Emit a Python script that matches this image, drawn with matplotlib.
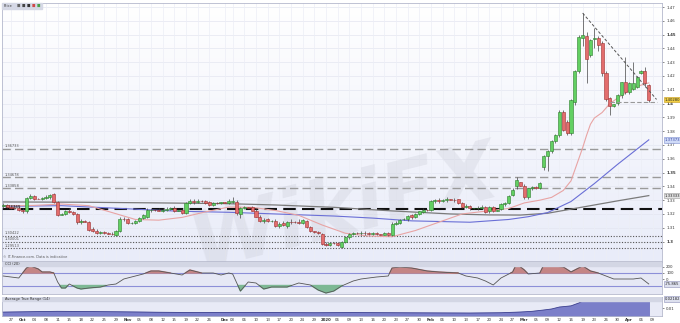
import matplotlib.pyplot as plt
import matplotlib.transforms as mtransforms
import numpy as np
import pandas as pd
from matplotlib.colors import LinearSegmentedColormap
from matplotlib.patches import Rectangle

W, H = 680, 323

# daily candles (Sun-Fri sessions), Sep 25 2019 -> Apr 8 2020
opens = [
    1.3255, 1.3265, 1.3250, 1.3245, 1.3242, 1.3232, 1.3220, 1.3319, 1.3330, 1.3312,
    1.3310, 1.3315, 1.3320, 1.3342, 1.3288, 1.3195, 1.3200, 1.3225, 1.3215, 1.3200,
    1.3140, 1.3150, 1.3140, 1.3090, 1.3078, 1.3065, 1.3068, 1.3062, 1.3058, 1.3045,
    1.3078, 1.3165, 1.3165, 1.3133, 1.3135, 1.3148, 1.3170, 1.3180, 1.3230, 1.3232,
    1.3230, 1.3225, 1.3230, 1.3238, 1.3245, 1.3225, 1.3228, 1.3208, 1.3283, 1.3297,
    1.3285, 1.3295, 1.3292, 1.3290, 1.3268, 1.3282, 1.3278, 1.3285, 1.3283, 1.3285,
    1.3290, 1.3200, 1.3245, 1.3248, 1.3250, 1.3225, 1.3180, 1.3148, 1.3162, 1.3150,
    1.3152, 1.3112, 1.3135, 1.3110, 1.3145, 1.3142, 1.3145, 1.3135, 1.3150, 1.3105,
    1.3075, 1.3068, 1.3058, 1.2985, 1.2978, 1.2990, 1.2988, 1.2960, 1.2995, 1.3030,
    1.3058, 1.3062, 1.3060, 1.3065, 1.3062, 1.3055, 1.3065, 1.3052, 1.3050, 1.3065,
    1.3045, 1.3130, 1.3135, 1.3160, 1.3160, 1.3190, 1.3175, 1.3198, 1.3212, 1.3232,
    1.3228, 1.3292, 1.3298, 1.3292, 1.3300, 1.3305, 1.3302, 1.3305, 1.3280, 1.3252,
    1.3258, 1.3240, 1.3242, 1.3245, 1.3250, 1.3218, 1.3248, 1.3222, 1.3235, 1.3272,
    1.3280, 1.3338, 1.3405, 1.3428, 1.3405, 1.3320, 1.3385, 1.3392, 1.3388, 1.3537,
    1.3617, 1.3653, 1.3726, 1.3770, 1.3937, 1.3870, 1.3784, 1.4010, 1.4235, 1.4475,
    1.4489, 1.4351, 1.4470, 1.4475, 1.4438, 1.4220, 1.4039, 1.3985, 1.4002, 1.4060,
    1.4155, 1.4082, 1.4104, 1.4119, 1.4225, 1.4235, 1.4133,
]
highs = [
    1.3280, 1.3275, 1.3265, 1.3250, 1.3258, 1.3245, 1.3325, 1.3345, 1.3340, 1.3318,
    1.3325, 1.3335, 1.3345, 1.3350, 1.3295, 1.3205, 1.3230, 1.3240, 1.3225, 1.3210,
    1.3160, 1.3155, 1.3150, 1.3105, 1.3090, 1.3080, 1.3078, 1.3066, 1.3072, 1.3085,
    1.3175, 1.3175, 1.3170, 1.3140, 1.3155, 1.3180, 1.3200, 1.3240, 1.3245, 1.3238,
    1.3245, 1.3240, 1.3252, 1.3250, 1.3255, 1.3232, 1.3235, 1.3290, 1.3305, 1.3310,
    1.3305, 1.3300, 1.3300, 1.3295, 1.3290, 1.3290, 1.3290, 1.3290, 1.3305, 1.3320,
    1.3300, 1.3250, 1.3260, 1.3252, 1.3258, 1.3235, 1.3190, 1.3170, 1.3170, 1.3155,
    1.3160, 1.3140, 1.3150, 1.3150, 1.3160, 1.3146, 1.3160, 1.3165, 1.3155, 1.3110,
    1.3080, 1.3080, 1.3065, 1.2995, 1.2998, 1.2995, 1.2995, 1.3005, 1.3040, 1.3065,
    1.3072, 1.3066, 1.3075, 1.3078, 1.3070, 1.3070, 1.3072, 1.3056, 1.3072, 1.3070,
    1.3140, 1.3150, 1.3165, 1.3170, 1.3195, 1.3198, 1.3205, 1.3225, 1.3240, 1.3238,
    1.3300, 1.3310, 1.3315, 1.3310, 1.3320, 1.3310, 1.3315, 1.3312, 1.3285, 1.3275,
    1.3265, 1.3245, 1.3255, 1.3262, 1.3258, 1.3255, 1.3255, 1.3232, 1.3280, 1.3290,
    1.3340, 1.3385, 1.3465, 1.3432, 1.3420, 1.3390, 1.3400, 1.3405, 1.3430, 1.3625,
    1.3665, 1.3735, 1.3780, 1.3955, 1.3950, 1.3880, 1.4030, 1.4240, 1.4500, 1.4656,
    1.4520, 1.4470, 1.4547, 1.4490, 1.4450, 1.4235, 1.4050, 1.4000, 1.4070, 1.4160,
    1.4337, 1.4160, 1.4300, 1.4200, 1.4245, 1.4265, 1.4140,
]
lows = [
    1.3240, 1.3245, 1.3235, 1.3238, 1.3225, 1.3205, 1.3210, 1.3305, 1.3300, 1.3305,
    1.3298, 1.3305, 1.3310, 1.3280, 1.3185, 1.3190, 1.3190, 1.3210, 1.3195, 1.3130,
    1.3125, 1.3140, 1.3075, 1.3068, 1.3058, 1.3055, 1.3055, 1.3055, 1.3045, 1.3040,
    1.3070, 1.3150, 1.3125, 1.3128, 1.3128, 1.3140, 1.3160, 1.3170, 1.3215, 1.3225,
    1.3218, 1.3212, 1.3222, 1.3228, 1.3215, 1.3220, 1.3200, 1.3200, 1.3275, 1.3275,
    1.3278, 1.3288, 1.3270, 1.3260, 1.3260, 1.3272, 1.3270, 1.3280, 1.3275, 1.3278,
    1.3195, 1.3170, 1.3235, 1.3240, 1.3218, 1.3175, 1.3140, 1.3135, 1.3140, 1.3145,
    1.3105, 1.3100, 1.3115, 1.3100, 1.3130, 1.3136, 1.3125, 1.3130, 1.3100, 1.3070,
    1.3060, 1.3052, 1.2975, 1.2965, 1.2965, 1.2982, 1.2968, 1.2952, 1.2990, 1.3020,
    1.3045, 1.3055, 1.3048, 1.3050, 1.3045, 1.3045, 1.3045, 1.3046, 1.3045, 1.3040,
    1.3038, 1.3120, 1.3128, 1.3155, 1.3150, 1.3165, 1.3168, 1.3190, 1.3205, 1.3225,
    1.3220, 1.3280, 1.3282, 1.3285, 1.3290, 1.3300, 1.3290, 1.3275, 1.3245, 1.3240,
    1.3232, 1.3235, 1.3232, 1.3238, 1.3208, 1.3210, 1.3215, 1.3218, 1.3228, 1.3260,
    1.3272, 1.3330, 1.3380, 1.3400, 1.3310, 1.3312, 1.3370, 1.3380, 1.3378, 1.3520,
    1.3508, 1.3640, 1.3715, 1.3760, 1.3800, 1.3775, 1.3770, 1.3990, 1.4220, 1.4420,
    1.4148, 1.4340, 1.4400, 1.4380, 1.4200, 1.4020, 1.3915, 1.3975, 1.3990, 1.4040,
    1.4070, 1.4070, 1.4095, 1.4110, 1.4215, 1.4120, 1.4010,
]
closes = [
    1.3265, 1.3250, 1.3245, 1.3242, 1.3232, 1.3220, 1.3319, 1.3330, 1.3312, 1.3310,
    1.3315, 1.3320, 1.3340, 1.3288, 1.3195, 1.3200, 1.3225, 1.3215, 1.3200, 1.3140,
    1.3150, 1.3145, 1.3085, 1.3075, 1.3065, 1.3068, 1.3062, 1.3058, 1.3055, 1.3078,
    1.3165, 1.3160, 1.3133, 1.3135, 1.3148, 1.3170, 1.3190, 1.3230, 1.3232, 1.3230,
    1.3225, 1.3230, 1.3238, 1.3245, 1.3225, 1.3228, 1.3208, 1.3283, 1.3297, 1.3285,
    1.3295, 1.3292, 1.3280, 1.3268, 1.3282, 1.3278, 1.3285, 1.3283, 1.3292, 1.3297,
    1.3205, 1.3245, 1.3248, 1.3245, 1.3225, 1.3180, 1.3148, 1.3158, 1.3150, 1.3152,
    1.3112, 1.3130, 1.3122, 1.3145, 1.3142, 1.3140, 1.3135, 1.3158, 1.3105, 1.3078,
    1.3068, 1.3060, 1.2985, 1.2978, 1.2993, 1.2988, 1.2975, 1.3000, 1.3030, 1.3058,
    1.3062, 1.3060, 1.3065, 1.3062, 1.3055, 1.3062, 1.3052, 1.3050, 1.3065, 1.3048,
    1.3130, 1.3138, 1.3158, 1.3165, 1.3188, 1.3175, 1.3198, 1.3218, 1.3232, 1.3230,
    1.3292, 1.3298, 1.3292, 1.3300, 1.3305, 1.3302, 1.3298, 1.3280, 1.3250, 1.3258,
    1.3240, 1.3242, 1.3245, 1.3250, 1.3215, 1.3248, 1.3222, 1.3228, 1.3272, 1.3282,
    1.3332, 1.3375, 1.3448, 1.3405, 1.3320, 1.3385, 1.3392, 1.3388, 1.3422, 1.3617,
    1.3653, 1.3726, 1.3770, 1.3937, 1.3812, 1.3784, 1.4024, 1.4235, 1.4482, 1.4497,
    1.4322, 1.4460, 1.4475, 1.4424, 1.4220, 1.4031, 1.3980, 1.3995, 1.4060, 1.4155,
    1.4082, 1.4148, 1.4150, 1.4191, 1.4235, 1.4148, 1.4028,
]

# moving averages as they appear on the chart (candle index, price)
ma20_idx = [0, 8, 15, 22, 28, 34, 40, 46, 52, 58, 64, 70, 76, 82, 88, 94, 100, 106, 112,
            118, 124, 130, 134, 138, 141, 144, 146, 148, 149, 150, 151, 152, 154, 156,
            158, 161, 163, 166]
ma20_val = [1.3258, 1.3262, 1.3272, 1.3260, 1.3210, 1.3160, 1.3155, 1.3175, 1.3215, 1.3250,
            1.3248, 1.3225, 1.3190, 1.3120, 1.3060, 1.3040, 1.3035, 1.3080, 1.3140, 1.3200,
            1.3220, 1.3240, 1.3280, 1.3300, 1.3320, 1.3370, 1.3440, 1.3600, 1.3680, 1.3770,
            1.3850, 1.3895, 1.3935, 1.4000, 1.4040, 1.4095, 1.4125, 1.4150]
ma50_idx = [0, 15, 30, 45, 58, 70, 85, 95, 105, 120, 130, 135, 140, 146, 152, 158, 166]
ma50_val = [1.3255, 1.3260, 1.3240, 1.3220, 1.3212, 1.3200, 1.3185, 1.3170, 1.3150, 1.3140,
            1.3160, 1.3180, 1.3210, 1.3290, 1.3420, 1.3560, 1.3737]
ma200_idx = [0, 20, 40, 57, 70, 85, 100, 115, 125, 133, 140, 150, 158, 166]
ma200_val = [1.3287, 1.3285, 1.3280, 1.3275, 1.3265, 1.3248, 1.3222, 1.3200, 1.3193, 1.3192,
             1.3205, 1.3255, 1.3295, 1.3333]

# CCI (20)
cci_idx = [0, 4, 6, 7, 9, 10, 12, 13, 14, 15, 16, 17, 19, 20, 22, 25, 27, 29, 31, 33, 36, 38,
           40, 43, 46, 48, 51, 54, 56, 58, 59, 61, 63, 65, 67, 69, 73, 76, 79, 81, 83, 85, 87,
           90, 92, 96, 99, 100, 102, 105, 109, 112, 117, 119, 122, 124, 126, 128, 131, 132,
           134, 135, 138, 139, 141, 144, 146, 149, 151, 153, 157, 159, 162, 164, 166]
cci_val = [52, 20, 180, 212, 164, 116, 116, 100, -44, -140, -140, -76, -140, -156, -140, -124,
           -92, -76, 4, 36, 84, 132, 132, 100, 68, 148, 100, 100, 68, 100, 84, -188, -44, -60,
           -156, -124, -124, -60, -92, -172, -220, -188, -108, -28, 4, 36, 52, 180, 196, 180,
           132, 116, 100, 52, 20, -28, -92, 20, 116, 244, 148, 84, 100, 228, 212, 196, 116,
           212, 132, 100, 4, 4, 4, 20, -75.865]

# Average True Range (14)
atr_idx = [0, 8, 14, 20, 30, 40, 50, 60, 70, 80, 90, 100, 110, 120, 128, 133, 136, 139, 141,
           143, 146, 148, 149, 151, 154, 156, 159, 161, 163, 166]
atr_val = [0.0050, 0.0056, 0.0060, 0.0058, 0.0054, 0.0048, 0.0044, 0.0046, 0.0044, 0.0042,
           0.0044, 0.0042, 0.0040, 0.0038, 0.0042, 0.0051, 0.0060, 0.0077, 0.0090, 0.0115,
           0.0130, 0.0167, 0.0192, 0.0218, 0.0220, 0.0230, 0.0232, 0.0244, 0.0230, 0.0218]

dashed_levels = [1.36733, 1.34678, 1.33858]
key_level = 1.32365
dotted_levels = [1.30422, 1.30001, 1.29513]
trend_idx = [149, 168]
trend_val = [1.4656, 1.4030]
support_idx = [156, 168]
support_val = [1.4013, 1.4013]

xticks = [("27", "2019-09-27"), ("Oct", "2019-10-01"), ("04", "2019-10-04"), ("08", "2019-10-08"),
          ("11", "2019-10-11"), ("15", "2019-10-15"), ("18", "2019-10-18"), ("22", "2019-10-22"),
          ("25", "2019-10-25"), ("29", "2019-10-29"), ("Nov", "2019-11-01"), ("05", "2019-11-05"),
          ("08", "2019-11-08"), ("12", "2019-11-12"), ("15", "2019-11-15"), ("19", "2019-11-19"),
          ("22", "2019-11-22"), ("26", "2019-11-26"), ("Dec", "2019-12-01"), ("03", "2019-12-03"),
          ("06", "2019-12-06"), ("10", "2019-12-10"), ("13", "2019-12-13"), ("17", "2019-12-17"),
          ("20", "2019-12-20"), ("24", "2019-12-24"), ("29", "2019-12-29"), ("2020", "2020-01-02"),
          ("06", "2020-01-06"), ("09", "2020-01-09"), ("13", "2020-01-13"), ("16", "2020-01-16"),
          ("20", "2020-01-20"), ("23", "2020-01-23"), ("27", "2020-01-27"), ("30", "2020-01-30"),
          ("Feb", "2020-02-03"), ("06", "2020-02-06"), ("10", "2020-02-10"), ("13", "2020-02-13"),
          ("17", "2020-02-17"), ("20", "2020-02-20"), ("24", "2020-02-24"), ("27", "2020-02-27"),
          ("Mar", "2020-03-02"), ("05", "2020-03-05"), ("09", "2020-03-09"), ("12", "2020-03-12"),
          ("16", "2020-03-16"), ("19", "2020-03-19"), ("23", "2020-03-23"), ("26", "2020-03-26"),
          ("30", "2020-03-30"), ("Apr", "2020-04-02"), ("06", "2020-04-06"), ("09", "2020-04-09")]
month_names = ["Oct", "Nov", "Dec", "2020", "Feb", "Mar", "Apr"]

# session calendar: Sunday to Friday, no Christmas / New Year candle
days = pd.date_range("2019-09-25", "2020-04-09")
days = days[(days.dayofweek != 5) & ~days.isin(pd.to_datetime(["2019-12-25", "2020-01-01"]))]
day_pos = {d.strftime("%Y-%m-%d"): i for i, d in enumerate(days)}
xt_pos = [day_pos[d] for _, d in xticks]
xt_lab = [t for t, _ in xticks]


def box(x0, y0, x1, y1):
    return [x0 / W, 1 - y1 / H, (x1 - x0) / W, (y1 - y0) / H]


fig = plt.figure(figsize=(W / 100, H / 100), dpi=100)
fig.patch.set_facecolor("white")
ax = fig.add_axes(box(2, 3, 662, 261))
ax_cci = fig.add_axes(box(2, 262, 662, 294))
ax_atr = fig.add_axes(box(2, 297, 662, 316))

xlim = (-0.31, 169.4)
ylim = (1.2859, 1.4729)

# --- price panel ---
bg = LinearSegmentedColormap.from_list("bg", ["#e9ecf9", "#ffffff"])
ax.imshow(np.linspace(0, 1, 256).reshape(-1, 1), cmap=bg, aspect="auto", origin="lower",
          extent=[xlim[0], xlim[1], ylim[0], ylim[1]], zorder=0)
price_ticks = np.round(np.arange(1.30, 1.4701, 0.01), 2)
for p in price_ticks:
    ax.axhline(p, color="#e4e6f1", lw=0.5, zorder=0.5)
for x in xt_pos:
    ax.axvline(x, color="#eceef6", lw=0.5, zorder=0.5)

ax.text(0.52, 0.2, "WikiFX", transform=ax.transAxes, fontsize=58, fontweight="bold",
        style="italic", color="#c9cbd6", alpha=0.32, rotation=14, ha="center", va="center",
        zorder=1)

tr_left = mtransforms.blended_transform_factory(ax.transAxes, ax.transData)
for lv in dashed_levels:
    ax.axhline(lv, color="#9a9a9a", lw=1.0, dashes=(6, 3), zorder=1.5)
    ax.text(0.004, lv + 0.0009, f"{lv:.5f}", transform=tr_left, fontsize=2.6, color="#555")
ax.axhline(key_level, color="#111111", lw=1.5, dashes=(6, 3), zorder=1.5)
ax.text(0.004, key_level + 0.0009, f"{key_level:.5f}", transform=tr_left, fontsize=2.6,
        color="#333", fontweight="bold")
for lv in dotted_levels:
    ax.axhline(lv, color="#555555", lw=0.8, ls=(0, (1, 1.5)), zorder=1.5)
    ax.text(0.004, lv + 0.0009, f"{lv:.5f}", transform=tr_left, fontsize=2.6, color="#555")

ax.plot(ma200_idx, ma200_val, color="#7a7a7a", lw=0.9, zorder=2)
ax.plot(ma50_idx, ma50_val, color="#6a6fd6", lw=0.8, zorder=2)
ax.plot(ma20_idx, ma20_val, color="#e8a4a4", lw=0.8, zorder=2)

o = np.array(opens)
h = np.array(highs)
lo = np.array(lows)
c = np.array(closes)
idx = np.arange(len(c))
up = c >= o
ax.vlines(idx, lo, h, color="#444444", lw=0.5, zorder=3)
body_lo = np.minimum(o, c)
body_h = np.maximum(np.abs(c - o), 0.00015)
ax.bar(idx[up], body_h[up], bottom=body_lo[up], width=0.8, color="#62d062",
       edgecolor="#2c7d2c", lw=0.4, zorder=3.5)
ax.bar(idx[~up], body_h[~up], bottom=body_lo[~up], width=0.8, color="#e36d6d",
       edgecolor="#9e2f2f", lw=0.4, zorder=3.5)

ax.plot(trend_idx, trend_val, color="#555555", lw=0.7, dashes=(3, 2), zorder=4)
ax.plot(support_idx, support_val, color="#999999", lw=0.8, dashes=(4, 2), zorder=4)

ax.set_xlim(*xlim)
ax.set_ylim(*ylim)
ax.yaxis.tick_right()
ax.set_yticks(price_ticks)
ax.set_yticklabels([f"{p:g}" for p in price_ticks])
for lbl, p in zip(ax.get_yticklabels(), price_ticks):
    if round(p * 100) % 5 == 0:
        lbl.set_fontweight("bold")
ax.set_xticks(xt_pos)
ax.tick_params(axis="x", length=0, labelbottom=False)
ax.tick_params(axis="y", length=1.5, width=0.4, labelsize=2.8, pad=1.5, colors="#333")

# --- CCI panel ---
ax_cci.set_facecolor("#e6e8f5")
cx = np.array(cci_idx)
cv = np.array(cci_val)
ax_cci.fill_between(cx, cv, 100, where=cv > 100, interpolate=True, color="#c48585", zorder=2)
ax_cci.fill_between(cx, cv, -100, where=cv < -100, interpolate=True, color="#7db894", zorder=2)
ax_cci.axhline(100, color="#8c8fd8", lw=0.8, zorder=1.5)
ax_cci.axhline(-100, color="#8c8fd8", lw=0.8, zorder=1.5)
ax_cci.plot(cx, cv, color="#555555", lw=0.6, zorder=3)
ax_cci.set_xlim(*xlim)
ax_cci.set_ylim(-236, 276)
ax_cci.yaxis.tick_right()
ax_cci.set_yticks([200, 100, 0])
ax_cci.set_xticks(xt_pos)
ax_cci.tick_params(axis="x", length=0, labelbottom=False)
ax_cci.tick_params(axis="y", length=1.5, width=0.4, labelsize=2.8, pad=1.5, colors="#333")
ax_cci.add_patch(Rectangle((0, 0.86), 1, 0.14, transform=ax_cci.transAxes, color="#d3d6e4",
                           zorder=4))
ax_cci.text(0.004, 0.93, "CCI (20)", transform=ax_cci.transAxes, fontsize=2.6, va="center",
            color="#333", zorder=5)

# --- ATR panel ---
ax_atr.set_facecolor("#e8eaf6")
ax_atr.fill_between(atr_idx, 0, atr_val, color="#7b7fc9", zorder=2)
ax_atr.plot(atr_idx, atr_val, color="#3d418f", lw=0.6, zorder=3)
ax_atr.set_xlim(*xlim)
ax_atr.set_ylim(0, 0.0244)
ax_atr.yaxis.tick_right()
ax_atr.set_yticks([0.01])
ax_atr.set_yticklabels(["0.01"])
ax_atr.tick_params(axis="y", length=1.5, width=0.4, labelsize=2.8, pad=1.5, colors="#333")
ax_atr.set_xticks(xt_pos)
ax_atr.set_xticklabels(xt_lab)
ax_atr.tick_params(axis="x", length=0, labelsize=2.8, pad=1.2, colors="#333")
for lbl, t in zip(ax_atr.get_xticklabels(), xt_lab):
    if t in month_names:
        lbl.set_fontweight("bold")
ax_atr.add_patch(Rectangle((0, 0.78), 1, 0.22, transform=ax_atr.transAxes, color="#d3d6e4",
                           zorder=4))
ax_atr.text(0.004, 0.89, "Average True Range (14)", transform=ax_atr.transAxes, fontsize=2.6,
            va="center", color="#333", zorder=5)

for a in (ax, ax_cci, ax_atr):
    for s in a.spines.values():
        s.set_color("#b4b8cc")
        s.set_linewidth(0.6)


def tag(axis, y, text, fc, ec, tc="#222222"):
    tr = mtransforms.blended_transform_factory(axis.transAxes, axis.transData)
    axis.text(1.004, y, text, transform=tr, fontsize=2.7, va="center", ha="left", color=tc,
              bbox=dict(boxstyle="square,pad=0.2", fc=fc, ec=ec, lw=0.4),
              clip_on=False, zorder=10)


tag(ax, closes[-1], "1.40280", "#f2cf45", "#c49a18")
tag(ax, ma50_val[-1], "1.37373", "#cfdaf7", "#7f8fd0", "#2f3fa0")
tag(ax, ma200_val[-1], "1.33333", "#e2e2e2", "#9a9a9a")
tag(ax_cci, cci_val[-1], "-75.865", "#dde0ee", "#8c8fb8")
tag(ax_atr, atr_val[-1], "0.02182", "#dde0ee", "#8c8fb8")

# header of the price panel and copyright line
fig.patches.append(Rectangle((2 / W, 1 - 9 / H), 40 / W, 6 / H, transform=fig.transFigure,
                             color="#d5d8e5", zorder=5))
fig.text(4 / W, 1 - 6 / H, "Price", fontsize=2.6, va="center", color="#333", zorder=6)
for k, col in enumerate(["#666666", "#444444", "#333333", "#d04848", "#48a048"]):
    fig.text((17 + 5 * k) / W, 1 - 6 / H, "\u25a0", fontsize=2.6, va="center", color=col,
             zorder=6)
fig.text(3 / W, 1 - 257 / H, "\u00a9 IT-Finance.com. Data is indicative", fontsize=2.5,
         va="center", color="#555")

fig.savefig("out.png", dpi=100, facecolor="white")
